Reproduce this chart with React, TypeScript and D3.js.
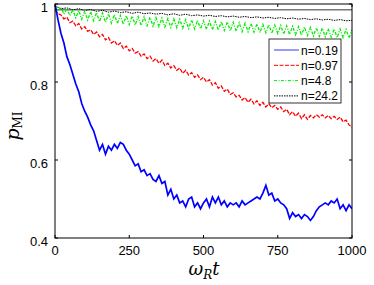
import React, { useEffect } from "react";
import * as d3 from "d3";

// time grids (omega_R t)
const tFine = d3.range(0, 1001, 10);
const tBlack = d3.range(0, 1001, 20);

const blueVals = [
  1.0, 0.96, 0.925, 0.9, 0.865, 0.845, 0.82, 0.795, 0.775, 0.745, 0.725, 0.71, 0.69, 0.675, 0.65,
  0.625, 0.64, 0.615, 0.635, 0.625, 0.64, 0.63, 0.645, 0.64, 0.625, 0.615, 0.6, 0.585, 0.59, 0.57,
  0.575, 0.56, 0.565, 0.55, 0.545, 0.56, 0.54, 0.545, 0.51, 0.525, 0.5, 0.51, 0.49, 0.495, 0.48,
  0.5, 0.505, 0.48, 0.49, 0.475, 0.49, 0.5, 0.48, 0.505, 0.49, 0.505, 0.485, 0.495, 0.48, 0.49,
  0.485, 0.49, 0.48, 0.495, 0.485, 0.49, 0.495, 0.5, 0.505, 0.5, 0.515, 0.535, 0.51, 0.515, 0.495,
  0.5, 0.49, 0.485, 0.475, 0.45, 0.465, 0.455, 0.46, 0.45, 0.46, 0.455, 0.445, 0.455, 0.47, 0.48,
  0.485, 0.49, 0.485, 0.495, 0.49, 0.5, 0.475, 0.485, 0.47, 0.485, 0.475,
];

const redVals = [
  0.985, 0.975, 0.972, 0.962, 0.966, 0.952, 0.956, 0.944, 0.95, 0.936, 0.942, 0.93, 0.934, 0.922,
  0.928, 0.916, 0.922, 0.908, 0.914, 0.9, 0.906, 0.894, 0.9, 0.886, 0.892, 0.88, 0.886, 0.874,
  0.878, 0.866, 0.872, 0.86, 0.866, 0.854, 0.86, 0.848, 0.856, 0.842, 0.848, 0.836, 0.842, 0.83,
  0.836, 0.822, 0.83, 0.818, 0.824, 0.812, 0.818, 0.806, 0.812, 0.8, 0.806, 0.792, 0.798, 0.784,
  0.79, 0.776, 0.782, 0.768, 0.772, 0.762, 0.766, 0.754, 0.76, 0.748, 0.756, 0.744, 0.752, 0.74,
  0.748, 0.736, 0.744, 0.734, 0.74, 0.73, 0.736, 0.724, 0.73, 0.716, 0.724, 0.712, 0.72, 0.706,
  0.716, 0.704, 0.714, 0.708, 0.716, 0.71, 0.716, 0.708, 0.714, 0.706, 0.712, 0.704, 0.71, 0.698,
  0.702, 0.69, 0.684,
];

const greenVals = [
  0.995, 0.982, 0.992, 0.974, 0.988, 0.97, 0.985, 0.965, 0.983, 0.961, 0.982, 0.959, 0.98, 0.957,
  0.978, 0.955, 0.977, 0.953, 0.975, 0.951, 0.973, 0.95, 0.971, 0.948, 0.97, 0.947, 0.969, 0.946,
  0.968, 0.945, 0.967, 0.944, 0.966, 0.943, 0.965, 0.942, 0.964, 0.941, 0.963, 0.94, 0.962, 0.939,
  0.961, 0.938, 0.96, 0.937, 0.959, 0.936, 0.958, 0.936, 0.957, 0.935, 0.956, 0.934, 0.955, 0.933,
  0.955, 0.932, 0.954, 0.931, 0.953, 0.93, 0.952, 0.929, 0.951, 0.929, 0.95, 0.928, 0.949, 0.927,
  0.948, 0.926, 0.947, 0.925, 0.946, 0.924, 0.945, 0.923, 0.944, 0.922, 0.943, 0.921, 0.942, 0.92,
  0.941, 0.919, 0.94, 0.918, 0.939, 0.917, 0.938, 0.916, 0.937, 0.915, 0.936, 0.914, 0.936, 0.914,
  0.935, 0.913, 0.934,
];

const blackVals = [
  0.995, 0.988, 0.99, 0.985, 0.988, 0.983, 0.986, 0.981, 0.984, 0.979, 0.982, 0.978, 0.98, 0.976,
  0.979, 0.975, 0.977, 0.974, 0.976, 0.972, 0.975, 0.971, 0.974, 0.97, 0.972, 0.969, 0.971, 0.968,
  0.97, 0.967, 0.969, 0.966, 0.968, 0.965, 0.967, 0.964, 0.966, 0.963, 0.965, 0.962, 0.964, 0.961,
  0.963, 0.96, 0.962, 0.959, 0.961, 0.958, 0.96, 0.957, 0.958,
];

const refLevel = 0.985;

const legendLabels = ["n=0.19", "n=0.97", "n=4.8", "n=24.2"];
const xTicks = [0, 250, 500, 750, 1000];
const yTicks = [0.4, 0.6, 0.8, 1];

const W = 374;
const H = 285;
const m = { left: 55, right: 22, top: 4, bottom: 47 };

export default function App() {
  useEffect(() => {
    document.body.style.margin = "0";
  }, []);

  const x = d3.scaleLinear().domain([0, 1000]).range([m.left, W - m.right]);
  const y = d3.scaleLinear().domain([0.4, 1]).range([H - m.bottom, m.top]);

  const line = d3
    .line<[number, number]>()
    .x((d) => x(d[0]))
    .y((d) => y(d[1]));

  const series = [
    { t: tFine, v: blueVals, color: "#0000ff", dash: "none", w: 1.7 },
    { t: tFine, v: redVals, color: "#ff0000", dash: "4 1.5", w: 1.3 },
    { t: tFine, v: greenVals, color: "#00ee00", dash: "3 1.5 1 1.5", w: 1.3 },
    { t: tBlack, v: blackVals, color: "#000000", dash: "1.5 1", w: 1 },
  ];

  const x0 = m.left;
  const x1 = W - m.right;
  const y0 = H - m.bottom;
  const y1 = m.top;
  const font = "Liberation Sans, Arial, sans-serif";

  const lgX = 269;
  const lgY = 39;
  const lgW = 72;
  const lgH = 64;

  return (
    <svg width={W} height={H} style={{ display: "block", background: "#fff" }}>
      <defs>
        <clipPath id="plot">
          <rect x={x0} y={y1} width={x1 - x0} height={y0 - y1} />
        </clipPath>
      </defs>
      <g clipPath="url(#plot)">
        <line x1={x0} x2={x1} y1={y(refLevel)} y2={y(refLevel)} stroke="#000" strokeWidth={0.8} />
        {series
          .slice()
          .reverse()
          .map((s, i) => (
            <path
              key={i}
              d={line(s.t.map((t, j) => [t, s.v[j]] as [number, number])) || ""}
              fill="none"
              stroke={s.color}
              strokeWidth={s.w}
              strokeDasharray={s.dash}
            />
          ))}
      </g>
      {/* axes box */}
      <rect x={x0} y={y1} width={x1 - x0} height={y0 - y1} fill="none" stroke="#000" strokeWidth={1} />
      {xTicks.map((t) => (
        <g key={"x" + t}>
          <line x1={x(t)} x2={x(t)} y1={y0} y2={y0 - 3} stroke="#000" />
          <line x1={x(t)} x2={x(t)} y1={y1} y2={y1 + 3} stroke="#000" />
          <text x={x(t)} y={y0 + 17} textAnchor="middle" fontFamily={font} fontSize={13}>
            {t}
          </text>
        </g>
      ))}
      {yTicks.map((v) => (
        <g key={"y" + v}>
          <line x1={x0} x2={x0 + 3} y1={y(v)} y2={y(v)} stroke="#000" />
          <line x1={x1} x2={x1 - 3} y1={y(v)} y2={y(v)} stroke="#000" />
          <text x={x0 - 7} y={y(v) + 8} textAnchor="end" fontFamily={font} fontSize={13}>
            {v === 1 ? "1" : v.toFixed(1)}
          </text>
        </g>
      ))}
      {/* legend */}
      <rect x={lgX} y={lgY} width={lgW} height={lgH} fill="#fff" stroke="#000" strokeWidth={0.8} />
      {series.map((s, i) => {
        const ly = lgY + 11 + i * 15.3;
        return (
          <g key={"lg" + i}>
            <line
              x1={lgX + 5}
              x2={lgX + 30}
              y1={ly}
              y2={ly}
              stroke={i === 0 ? "#7f7fff" : s.color}
              strokeWidth={i === 0 ? 1.6 : 1}
              strokeDasharray={s.dash}
            />
            <text x={lgX + 32} y={ly + 4.5} fontFamily={font} fontSize={12}>
              {legendLabels[i]}
            </text>
          </g>
        );
      })}
      {/* axis labels */}
      <text x={204} y={275} textAnchor="middle" fontFamily="DejaVu Serif, serif" fontSize={18} fontStyle="italic">
        ω
        <tspan fontSize={12} dy={4}>R</tspan>
        <tspan dy={-4}>t</tspan>
      </text>
      <text
        transform={`translate(19,126) rotate(-90)`}
        textAnchor="middle"
        fontFamily="DejaVu Serif, serif"
        fontSize={19}
      >
        <tspan fontStyle="italic">p</tspan>
        <tspan fontSize={12} dy={3}>MI</tspan>
      </text>
    </svg>
  );
}
